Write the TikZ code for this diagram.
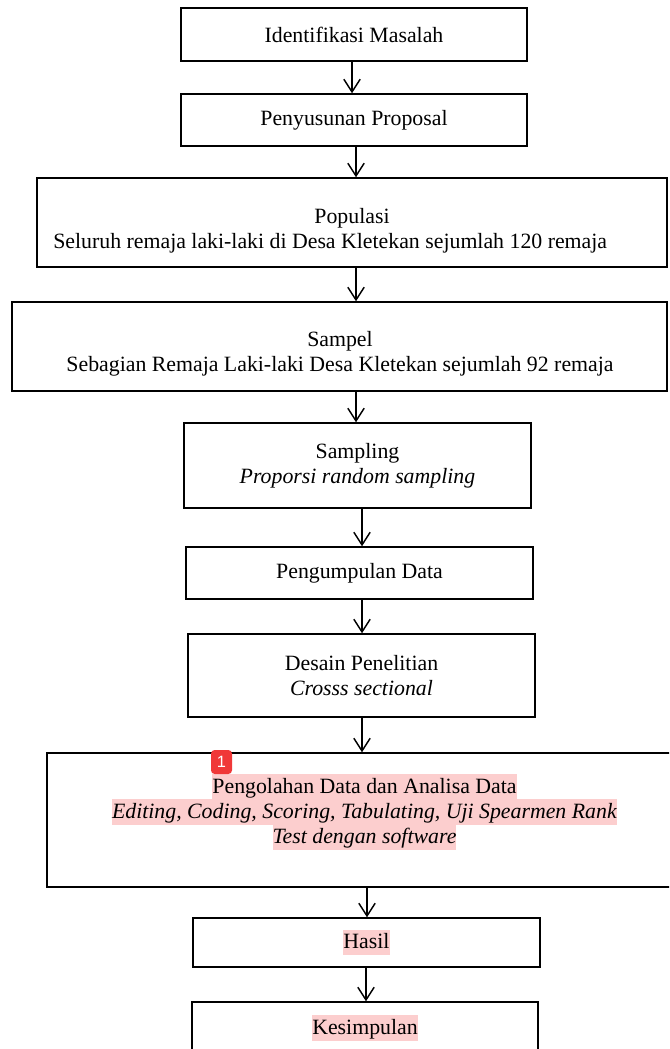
\documentclass[tikz,border=0pt]{standalone}
\usepackage{fontspec}
\setmainfont{Liberation Serif}
\setsansfont{Liberation Sans}
\usetikzlibrary{positioning, arrows.meta, shapes}
\definecolor{hlpink}{RGB}{252,206,206}
\definecolor{badgered}{RGB}{240,56,56}
\newcommand{\hlt}[1]{{\setlength{\fboxsep}{0pt}\colorbox{hlpink}{\rule[-3.4pt]{0pt}{13.8pt}#1}}}

\begin{document}
\begin{tikzpicture}[x=0.55pt, y=-0.55pt,
    box/.style={draw, line width=0.8pt, inner sep=0pt, align=center, font=\fontsize{12}{13.8}\selectfont},
    txt/.style={inner sep=0pt, align=center, font=\fontsize{12}{13.8}\selectfont},
    arr/.style={-{Straight Barb[length=7pt,width=9pt]}, line width=0.8pt}]
            \useasboundingbox (0,0) rectangle (669,1049);
            \clip (0,0) rectangle (669,1049);

            % Boxes
            \node[box, minimum width=190.3pt, minimum height=29.15pt] (ident) at (354,34.5) {Identifikasi Masalah};
            \node[box, minimum width=190.3pt, minimum height=28.6pt] (prop) at (354,120) {Penyusunan Proposal};
            \node[box, minimum width=346.5pt, minimum height=48.95pt] (pop) at (352,222.5) {};
            \node[txt] (popt) at (352,230.5) {Populasi\\Seluruh remaja laki-laki di Desa Kletekan sejumlah 120 remaja\hspace*{24pt}};
            \node[box, minimum width=360.25pt, minimum height=48.95pt] (sam) at (339.5,346.5) {};
            \node[txt] (samt) at (340,353.5) {Sampel\\Sebagian Remaja Laki-laki Desa Kletekan sejumlah 92 remaja};
            \node[box, minimum width=190.85pt, minimum height=46.75pt] (samp) at (357.5,465.5) {Sampling\\\textit{Proporsi random sampling}};
            \node[box, minimum width=190.85pt, minimum height=28.6pt] (kumpul) at (359.5,573) {Pengumpulan Data};
            \node[box, minimum width=190.85pt, minimum height=45.65pt] (desain) at (361.5,675.5) {Desain Penelitian\\\textit{Crosss sectional}};
            \node[box, minimum width=349.25pt, minimum height=73.7pt] (olah) at (364.5,820) {};
            \node[txt] (olaht) at (364.5,812) {\hlt{Pengolahan Data dan Analisa Data}\\
                \hlt{\textit{Editing, Coding, Scoring, Tabulating, Uji Spearmen Rank}}\\
                \hlt{\textit{Test dengan software}}};
            \node[box, minimum width=190.85pt, minimum height=26.95pt] (hasil) at (366.5,942.5) {\hlt{Hasil}};
            \node[box, minimum width=190.3pt, minimum height=28.6pt] (simpul) at (365,1028) {\hlt{Kesimpulan}};

            % Comment marker
            \node[fill=badgered, rounded corners=2pt, minimum width=11.55pt, minimum height=13.2pt, inner sep=0pt,
                text=white, font=\sffamily\fontsize{9}{9}\selectfont] (badge) at (221.5,762) {1};

            % Draw arrows
            \draw[arr] (ident.south -| 352,0) -- (prop.north -| 352,0);
            \draw[arr] (prop.south -| 356,0) -- (pop.north -| 356,0);
            \draw[arr] (pop.south -| 356,0) -- (sam.north -| 356,0);
            \draw[arr] (sam.south -| 356,0) -- (samp.north -| 356,0);
            \draw[arr] (samp.south -| 362,0) -- (kumpul.north -| 362,0);
            \draw[arr] (kumpul.south -| 362,0) -- (desain.north -| 362,0);
            \draw[arr] (desain.south -| 362,0) -- (olah.north -| 362,0);
            \draw[arr] (olah.south -| 367,0) -- (hasil.north -| 367,0);
            \draw[arr] (hasil.south -| 366,0) -- (simpul.north -| 366,0);
        \end{tikzpicture}
\end{document}
